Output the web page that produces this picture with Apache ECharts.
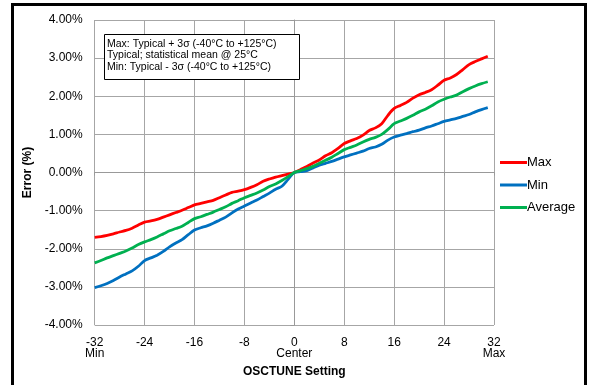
<!DOCTYPE html>
<html><head><meta charset="utf-8">
<script src="https://cdn.jsdelivr.net/npm/echarts@6/dist/echarts.min.js"></script>
<style>html,body{margin:0;padding:0;background:#fff}#c{width:589px;height:385px}</style>
</head><body><div id="c"></div>
<script>
const settings = [];
for (let i = -32; i <= 31; i++) settings.push(i);
const maxVals = [-1.70,-1.68,-1.65,-1.61,-1.56,-1.52,-1.46,-1.38,-1.30,-1.27,-1.23,-1.17,-1.11,-1.05,-0.99,-0.92,-0.85,-0.81,-0.77,-0.73,-0.66,-0.59,-0.52,-0.49,-0.45,-0.39,-0.32,-0.23,-0.17,-0.12,-0.08,-0.04,0.00,0.08,0.16,0.25,0.33,0.44,0.52,0.63,0.76,0.83,0.89,0.98,1.10,1.17,1.28,1.50,1.68,1.76,1.84,1.95,2.04,2.10,2.17,2.29,2.42,2.48,2.57,2.70,2.83,2.91,2.98,3.05];
const minVals = [-3.02,-2.97,-2.91,-2.83,-2.74,-2.66,-2.58,-2.46,-2.31,-2.24,-2.17,-2.07,-1.95,-1.85,-1.76,-1.63,-1.51,-1.45,-1.40,-1.33,-1.25,-1.17,-1.06,-0.96,-0.88,-0.80,-0.72,-0.63,-0.54,-0.44,-0.36,-0.18,0.00,0.02,0.05,0.12,0.19,0.24,0.29,0.35,0.41,0.46,0.51,0.56,0.63,0.67,0.74,0.85,0.93,0.98,1.02,1.07,1.11,1.17,1.22,1.28,1.34,1.38,1.42,1.47,1.52,1.59,1.65,1.70];
const avgVals = [-2.37,-2.31,-2.24,-2.18,-2.12,-2.06,-1.98,-1.89,-1.82,-1.76,-1.69,-1.61,-1.53,-1.47,-1.41,-1.31,-1.21,-1.16,-1.10,-1.04,-0.97,-0.90,-0.81,-0.74,-0.66,-0.60,-0.54,-0.46,-0.37,-0.30,-0.21,-0.11,0.00,0.05,0.10,0.16,0.24,0.32,0.40,0.50,0.60,0.66,0.72,0.80,0.87,0.92,1.00,1.13,1.28,1.35,1.42,1.50,1.59,1.66,1.75,1.85,1.92,1.98,2.03,2.12,2.20,2.27,2.33,2.38];
const xTickNames = {'-32':'-32\nMin','0':'0\nCenter','32':'32\nMax'};
const noteLines = ['Max: Typical + 3\u03c3 (-40\u00b0C to +125\u00b0C)','Typical; statistical mean @ 25\u00b0C','Min: Typical - 3\u03c3 (-40\u00b0C to +125\u00b0C)'];

const F = 'Arial, "Liberation Sans", sans-serif';
const chart = echarts.init(document.getElementById('c'), null, {renderer:'canvas'});
const pair = (vals) => settings.map((x,i)=>[x, vals[i]]);
const legendBase = {orient:'vertical', left:500, itemWidth:27, itemHeight:3, itemGap:0, icon:'rect',
  textStyle:{fontFamily:F, fontSize:13, color:'#000', padding:[0,0,0,-5]}, padding:0};
chart.setOption({
  animation:false,
  grid:{left:94.7, right:95, top:20, bottom:60, containLabel:false},
  xAxis:{type:'value', min:-32, max:32, interval:8,
    name:'OSCTUNE Setting', nameLocation:'middle', nameGap:41,
    nameTextStyle:{fontFamily:F, fontSize:12, fontWeight:'bold', color:'#000'},
    axisLine:{lineStyle:{color:'#999', width:1}},
    axisTick:{show:true, length:3, lineStyle:{color:'#999'}},
    splitLine:{show:true, lineStyle:{color:'#a6a6a6', width:1}},
    axisLabel:{fontFamily:F, fontSize:12, color:'#000', margin:12, lineHeight:11,
      formatter:(v)=> xTickNames[String(v)] || String(v)}},
  yAxis:{type:'value', min:-4, max:4, interval:1,
    name:'Error (%)', nameLocation:'middle', nameGap:58, nameRotate:90,
    nameTextStyle:{fontFamily:F, fontSize:12, fontWeight:'bold', color:'#000'},
    axisLine:{show:true, lineStyle:{color:'#999', width:1}},
    axisTick:{show:true, length:4, lineStyle:{color:'#999'}},
    splitLine:{show:true, lineStyle:{color:'#a6a6a6', width:1}},
    axisLabel:{fontFamily:F, fontSize:12, color:'#000', margin:12,
      formatter:(v)=> v.toFixed(2)+'%'}},
  legend:[
    Object.assign({}, legendBase, {top:156, data:['Max']}),
    Object.assign({}, legendBase, {top:178.5, data:['Min']}),
    Object.assign({}, legendBase, {top:201, data:['Average']})
  ],
  series:[
    {name:'Max', type:'line', data:pair(maxVals), symbol:'none', smooth:0.3, lineStyle:{color:'#ff0000', width:2.8}, itemStyle:{color:'#ff0000'}},
    {name:'Min', type:'line', data:pair(minVals), symbol:'none', smooth:0.3, lineStyle:{color:'#0070c0', width:2.8}, itemStyle:{color:'#0070c0'}},
    {name:'Average', type:'line', data:pair(avgVals), symbol:'none', smooth:0.3, lineStyle:{color:'#00b050', width:2.8}, itemStyle:{color:'#00b050'}}
  ],
  graphic:[
    {type:'rect', shape:{x:12.5, y:4.5, width:573, height:395}, style:{fill:'none', stroke:'#000', lineWidth:3}, silent:true},
    {type:'rect', shape:{x:104.5, y:34.5, width:195, height:45}, style:{fill:'#fff', stroke:'#000', lineWidth:1}, z:100},
    {type:'text', left:107, top:38, z:101, style:{text:noteLines.join('\n'), fontFamily:F, fontSize:10.5, lineHeight:11.5, fill:'#000'}}
  ]
});
</script></body></html>
